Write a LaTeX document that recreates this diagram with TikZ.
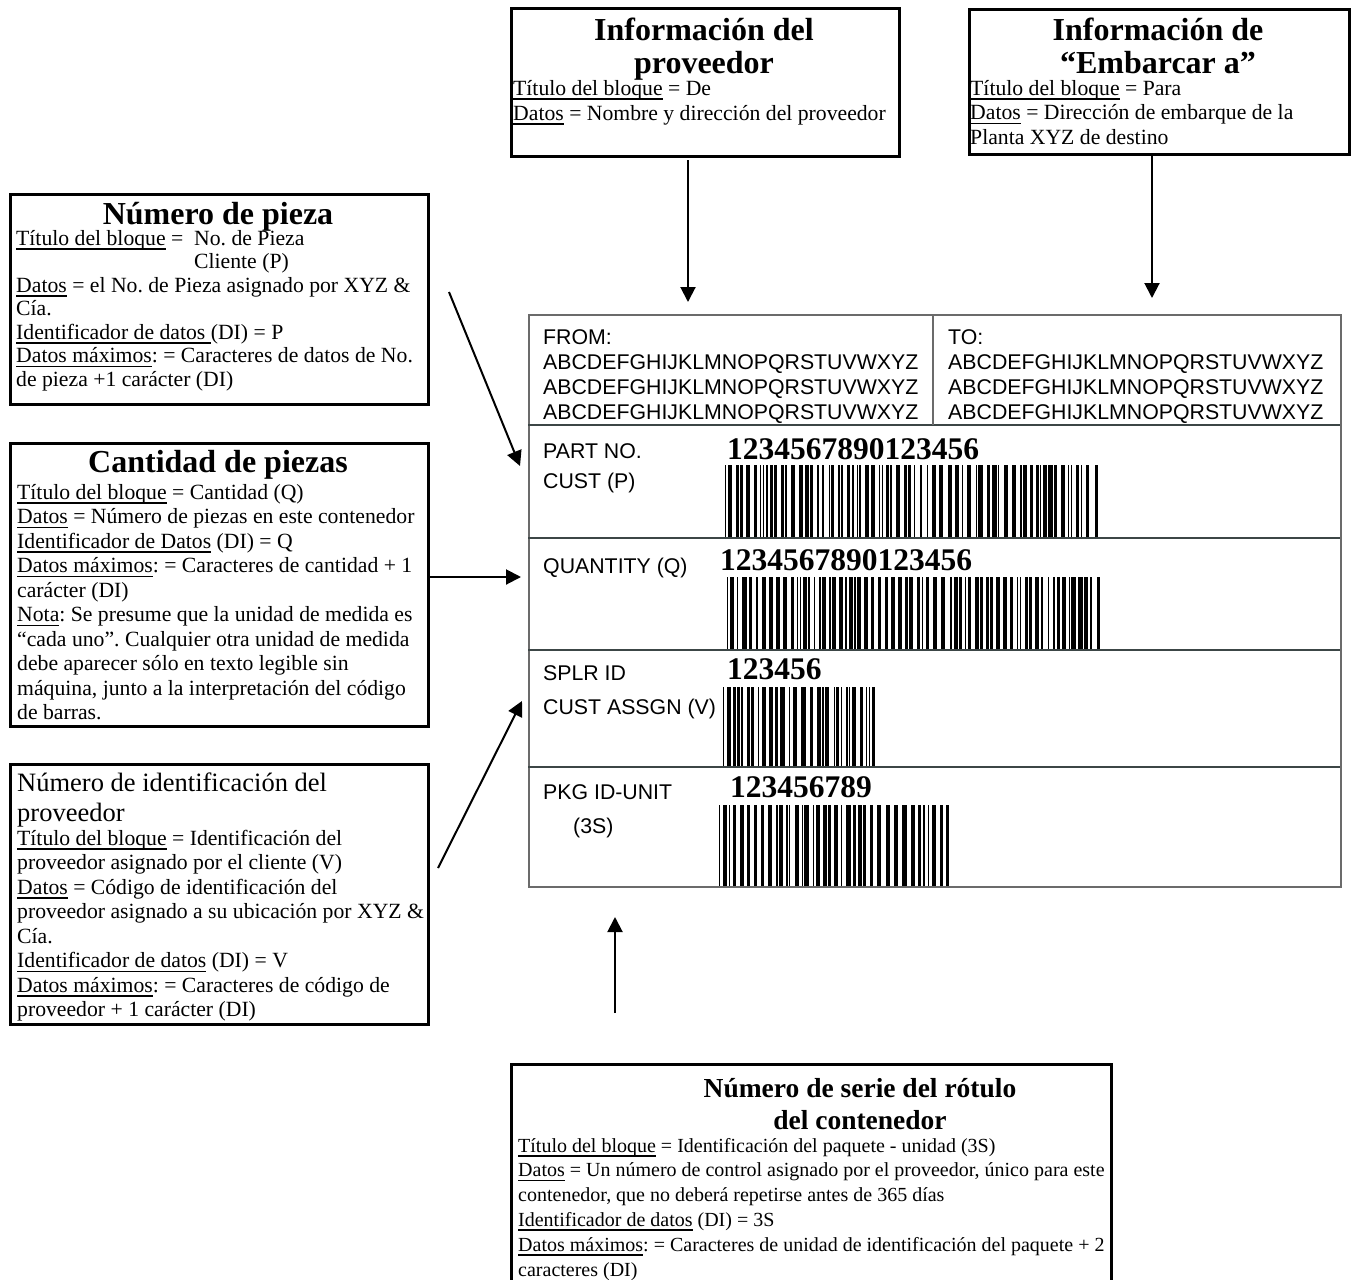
\documentclass[tikz,border=0pt]{standalone}
\usepackage{fontspec}
\setmainfont{Liberation Serif}
\newfontfamily\labelsans{Liberation Sans}
\usetikzlibrary{arrows.meta,positioning}

% underline sitting just below the baseline
\newcommand{\undl}[1]{\leavevmode\setbox0\hbox{#1}\rlap{\rule[-4.5pt]{\wd0}{1.5pt}}\box0\relax}

% pseudo-random barcode: left, right, top, bottom, seed
\newcommand{\drawbars}[5]{%
  \pgfmathsetseed{#5}%
  \pgfmathsetmacro{\barX}{#1}%
  \loop
    \pgfmathrandominteger{\barW}{1}{3}%
    \pgfmathrandominteger{\gapW}{1}{3}%
    \fill (\barX,#3) rectangle ({\barX+1.4*\barW},#4);
    \pgfmathsetmacro{\barX}{\barX+1.4*(\barW+\gapW)}%
  \ifdim\barX pt<\dimexpr#2pt-6pt\relax
  \repeat
  \fill ({#2-3},#3) rectangle (#2,#4);
}

\begin{document}
\frenchspacing
\begin{tikzpicture}[x=1pt, y=-1pt, >={Triangle[length=15pt,width=15pt]},
    infobox/.style={draw=black, line width=2.5pt, anchor=north west, inner sep=0pt},
    headtext/.style={font=\fontsize{32}{33}\selectfont\bfseries, align=center, inner sep=0pt, anchor=base},
    bodytext/.style={font=\fontsize{21.7}{24.5}\selectfont, align=left, inner sep=0pt, anchor=base west},
    tagtext/.style={font=\labelsans\fontsize{21.3}{25}\selectfont, align=left, inner sep=0pt, anchor=base west},
    numtext/.style={font=\fontsize{31.5}{32}\selectfont\bfseries, inner sep=0pt, anchor=base west},
    pointer/.style={->, line width=2pt}]

    % Colors
    \definecolor{frameCol}{HTML}{6B6B6B}
    \definecolor{ruleCol}{HTML}{3C4646}

    % Canvas (multi-line nodes sit on their last baseline)
    \useasboundingbox (0,0) rectangle (1358,1280);
    \clip (0,0) rectangle (1358,1280);

    % 1. Top boxes (From / Ship to)
    \node[infobox, minimum width=388pt, minimum height=148pt] (supplier) at (510,7) {};
    \node[headtext] (supplierHead) at (704,73) {Información del\\proveedor};
    \node[bodytext, font=\fontsize{21.7}{25}\selectfont] (supplierBody) at (513,120) {\undl{Título del bloque} = De\\\undl{Datos} = Nombre y dirección del proveedor};

    \node[infobox, minimum width=380pt, minimum height=145pt] (shipto) at (968,8) {};
    \node[headtext] (shiptoHead) at (1158,73) {Información de\\“Embarcar a”};
    \node[bodytext] (shiptoBody) at (970,144) {\undl{Título del bloque} = Para\\\undl{Datos} = Dirección de embarque de la\\Planta XYZ de destino};

    % 2. Left boxes
    \node[infobox, minimum width=418pt, minimum height=210pt] (partinfo) at (9,193) {};
    \node[headtext] (partHead) at (218,224) {Número de pieza};
    \node[bodytext, font=\fontsize{21.7}{23.5}\selectfont] (partBody) at (16,386) {\undl{Título del bloque} =\ \ No. de Pieza\\
        \phantom{Título del bloque =\ \ }Cliente (P)\\
        \undl{Datos} = el No. de Pieza asignado por XYZ \&\\
        Cía.\\
        \undl{Identificador de datos\ }(DI) = P\\
        \undl{Datos máximos}: = Caracteres de datos de No.\\
        de pieza +1 carácter (DI)};

    \node[infobox, minimum width=418pt, minimum height=283pt] (qtyinfo) at (9,442) {};
    \node[headtext] (qtyHead) at (218,472) {Cantidad de piezas};
    \node[bodytext] (qtyBody) at (17,719.5) {\undl{Título del bloque} = Cantidad (Q)\\
        \undl{Datos} = Número de piezas en este contenedor\\
        \undl{Identificador de Datos} (DI) = Q\\
        \undl{Datos máximos}: = Caracteres de cantidad + 1\\
        carácter (DI)\\
        \undl{Nota}: Se presume que la unidad de medida es\\
        “cada uno”. Cualquier otra unidad de medida\\
        debe aparecer sólo en texto legible sin\\
        máquina, junto a la interpretación del código\\
        de barras.};

    \node[infobox, minimum width=418pt, minimum height=260pt] (splrinfo) at (9,763) {};
    \node[bodytext, font=\fontsize{26.5}{30}\selectfont] (splrHead) at (17,821) {Número de identificación del\\proveedor};
    \node[bodytext] (splrBody) at (17,1016.5) {\undl{Título del bloque} = Identificación del\\
        proveedor asignado por el cliente (V)\\
        \undl{Datos} = Código de identificación del\\
        proveedor asignado a su ubicación por XYZ \&\\
        Cía.\\
        \undl{Identificador de datos} (DI) = V\\
        \undl{Datos máximos}: = Caracteres de código de\\
        proveedor + 1 carácter (DI)};

    % 3. Bottom box (serial number)
    \node[infobox, minimum width=600pt, minimum height=240pt] (serialinfo) at (510,1063) {};
    \node[headtext, font=\fontsize{27.5}{32}\selectfont\bfseries] (serialHead) at (860,1129) {Número de serie del rótulo\\del contenedor};
    \node[bodytext, font=\fontsize{20}{24.8}\selectfont] (serialBody) at (518,1276) {\undl{Título del bloque} = Identificación del paquete - unidad (3S)\\
        \undl{Datos} = Un número de control asignado por el proveedor, único para este\\
        contenedor, que no deberá repetirse antes de 365 días\\
        \undl{Identificador de datos} (DI) = 3S\\
        \undl{Datos máximos}: = Caracteres de unidad de identificación del paquete + 2\\
        caracteres (DI)};

    % 4. Shipping label
    \def\labL{528}
    \def\labR{1340}
    \drawbars{725}{1098}{465}{538}{11}
    \drawbars{727}{1100}{577}{650}{23}
    \drawbars{723}{875}{687}{767}{37}
    \drawbars{719}{949}{805}{886}{41}

    \node[draw=frameCol, line width=2pt, minimum width=812pt, minimum height=572pt, anchor=north west, inner sep=0pt] (label) at (\labL,314) {};
    \foreach \y in {425, 538, 650, 767} {
        \draw[line width=2pt, ruleCol] (\labL,\y) -- (\labR,\y);
    }
    \draw[line width=2pt, frameCol] (933,314) -- (933,425);

    \node[tagtext] (fromText) at (543,419) {FROM:\\ABCDEFGHIJKLMNOPQRSTUVWXYZ\\ABCDEFGHIJKLMNOPQRSTUVWXYZ\\ABCDEFGHIJKLMNOPQRSTUVWXYZ};
    \node[tagtext] (toText) at (948,419) {TO:\\ABCDEFGHIJKLMNOPQRSTUVWXYZ\\ABCDEFGHIJKLMNOPQRSTUVWXYZ\\ABCDEFGHIJKLMNOPQRSTUVWXYZ};

    \node[tagtext, font=\labelsans\fontsize{21.3}{30}\selectfont] (partTag) at (543,488) {PART NO.\\CUST (P)};
    \node[numtext] (partNum) at (727,459) {1234567890123456};
    \node[tagtext] (qtyTag) at (543,573) {QUANTITY (Q)};
    \node[numtext] (qtyNum) at (720,570) {1234567890123456};
    \node[tagtext, font=\labelsans\fontsize{21.3}{34}\selectfont] (splrTag) at (543,714) {SPLR ID\\CUST ASSGN (V)};
    \node[numtext] (splrNum) at (727,679) {123456};
    \node[tagtext] (pkgTag) at (543,799) {PKG ID-UNIT};
    \node[tagtext] (pkgSub) at (573,833) {(3S)};
    \node[numtext] (pkgNum) at (730,797) {123456789};

    % 5. Pointers from the boxes to the label
    \coordinate (fromStart) at (688,160);
    \coordinate (fromTip) at (688,302);
    \coordinate (toStart) at (1152,155);
    \coordinate (toTip) at (1152,298);
    \coordinate (partStart) at (449,292);
    \coordinate (partTip) at (520,466);
    \coordinate (qtyStart) at (430,577);
    \coordinate (qtyTip) at (521,577);
    \coordinate (splrStart) at (438,868);
    \coordinate (splrTip) at (522,701);
    \coordinate (pkgStart) at (615,1013);
    \coordinate (pkgTip) at (615,917);

    \draw[pointer] (fromStart) -- (fromTip);
    \draw[pointer] (toStart) -- (toTip);
    \draw[pointer] (partStart) -- (partTip);
    \draw[pointer] (qtyStart) -- (qtyTip);
    \draw[pointer] (splrStart) -- (splrTip);
    \draw[pointer] (pkgStart) -- (pkgTip);
\end{tikzpicture}
\end{document}
